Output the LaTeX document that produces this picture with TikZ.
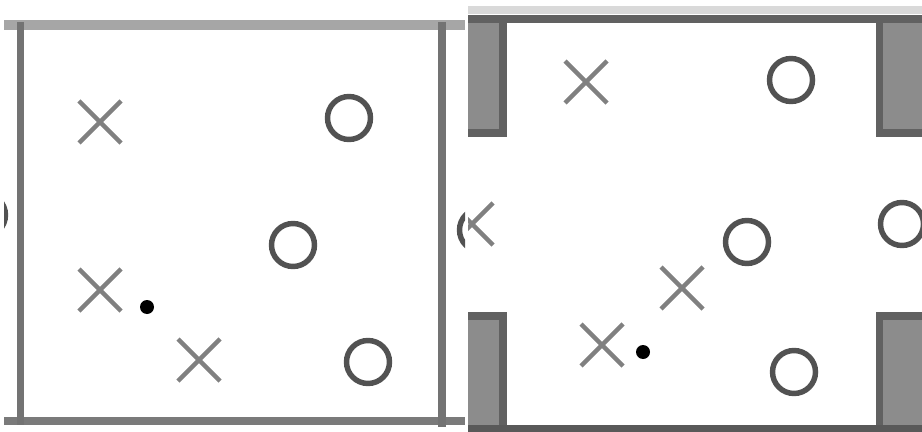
\documentclass[tikz,border=0pt]{standalone}
\begin{document}
\begin{tikzpicture}[x=0.02cm, y=-0.02cm,
    xmark/.style={draw=black!50, line width=2.6pt},
    omark/.style={draw=black!68, line width=3.1pt},
    wall/.style={fill=black!45, draw=black!62, line width=4pt}]
  \useasboundingbox (0,0) rectangle (922,432);
  % left box: periodic sides
  \begin{scope}
    \clip (4,0) rectangle (465,432);
    \draw[black!35, line width=6.2pt] (4,25) -- (465,25);
    \draw[black!52, line width=4pt] (4,421) -- (465,421);
    \draw[black!55, line width=4pt] (20.5,22) -- (20.5,425);
    \draw[black!55, line width=4pt] (442,22) -- (442,427);
    \foreach \x/\y in {100/122, 100/290, 199/360}
      \draw[xmark] (\x-21,\y-21) -- ++(42,42) (\x-21,\y+21) -- ++(42,-42);
    \foreach \x/\y in {349/118, 293/245, 368/362, -16/215, 481/230}
      \draw[omark] (\x,\y) circle[radius=21.5];
    \fill (147,307) circle[radius=7];
  \end{scope}
  % right box: walls with openings
  \begin{scope}
    \clip (468,0) rectangle (922,432);
    \draw[black!15, line width=5pt] (468,10) -- (922,10);
    \draw[wall] (462,19) rectangle (503,133);
    \draw[wall] (879,19) rectangle (930,133);
    \draw[wall] (462,316) rectangle (503,440);
    \draw[wall] (879,316) rectangle (930,440);
    \draw[black!62, line width=4.5pt] (468,19) -- (922,19);
    \draw[black!65, line width=4pt] (468,428.5) -- (922,428.5);
    \foreach \x/\y in {586/82, 682/288, 602/345, 472/224}
      \draw[xmark] (\x-21,\y-21) -- ++(42,42) (\x-21,\y+21) -- ++(42,-42);
    \foreach \x/\y in {791/80, 747/242, 794/372, 902/224}
      \draw[omark] (\x,\y) circle[radius=21.5];
    \fill (643,352) circle[radius=7];
  \end{scope}
\end{tikzpicture}
\end{document}
